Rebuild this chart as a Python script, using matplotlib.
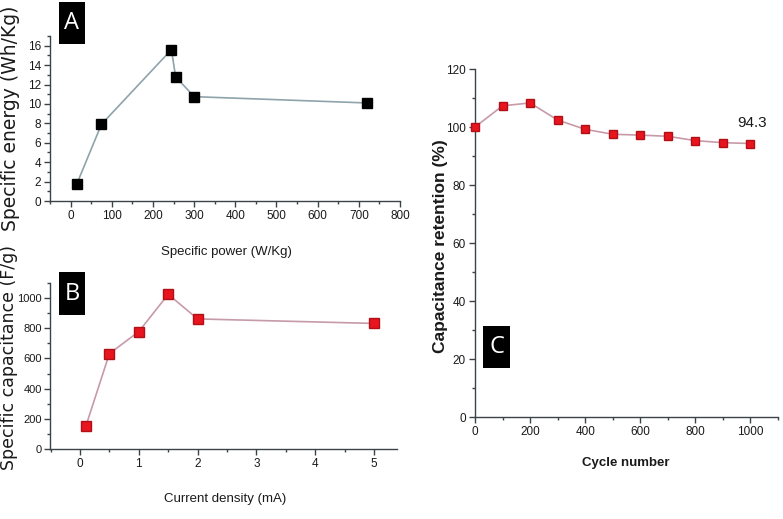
import matplotlib
matplotlib.use("Agg")
import matplotlib.pyplot as plt
from matplotlib.patches import Rectangle
from matplotlib.ticker import MultipleLocator

# Panel A: specific energy vs specific power
power = [15, 75, 245, 255, 300, 720]
energy = [1.75, 7.9, 15.6, 12.8, 10.75, 10.1]

# Panel B: specific capacitance vs current density
current = [0.1, 0.5, 1.0, 1.5, 2.0, 5.0]
capacitance = [152, 632, 778, 1025, 862, 832]

# Panel C: capacitance retention vs cycle number
cycles = [0, 100, 200, 300, 400, 500, 600, 700, 800, 900, 1000]
retention = [100, 107.3, 108.3, 102.4, 99.2, 97.5, 97.2, 96.8, 95.3, 94.6, 94.3]

W, H = 783, 519
narrow = ['Liberation Sans', 'DejaVu Sans']

fig = plt.figure(figsize=(W / 100, H / 100), dpi=100)


def px_axes(left, top, right, bottom):
    # place axes using pixel coords of the reference image
    return fig.add_axes([left / W, 1 - bottom / H, (right - left) / W, (bottom - top) / H])


def style(ax):
    for s in ['top', 'right']:
        ax.spines[s].set_visible(False)
    for s in ['left', 'bottom']:
        ax.spines[s].set_color('#3a4448')
        ax.spines[s].set_linewidth(1.0)
    ax.tick_params(which='major', length=4, width=1, color='#3a4448', labelsize=8.5, pad=2.5)
    ax.tick_params(which='minor', length=2.5, width=1, color='#3a4448')
    for lab in ax.get_xticklabels() + ax.get_yticklabels():
        lab.set_family(narrow)
        lab.set_color('#1a1a1a')


def letter_box(x0, y0, x1, y1, letter):
    fig.patches.append(Rectangle((x0 / W, 1 - y1 / H), (x1 - x0) / W, (y1 - y0) / H,
                                 transform=fig.transFigure, facecolor='black', edgecolor='none'))
    fig.text((x0 + x1) / 2 / W, 1 - (y0 + y1) / 2 / H, letter, color='white', fontsize=17,
             ha='center', va='center', family=['Open Sans', 'DejaVu Sans'])


# ---- Panel A ----
axA = px_axes(50, 36, 400, 201)
axA.plot(power, energy, color='#8fa3ab', lw=1.2, marker='s', ms=6.5,
         mfc='black', mec='black', zorder=3)
axA.set_xlim(-50, 800)
axA.set_ylim(0, 17)
axA.set_xticks(range(0, 801, 100))
axA.set_yticks(range(0, 17, 2))
axA.xaxis.set_minor_locator(MultipleLocator(50))
axA.yaxis.set_minor_locator(MultipleLocator(1))
style(axA)

# ---- Panel B ----
axB = px_axes(50, 283, 397, 449)
axB.plot(current, capacitance, color='#c79aa8', lw=1.2, marker='s', ms=6.5,
         mfc='#e8141e', mec='#b01018', zorder=3)
axB.set_xlim(-0.51, 5.39)
axB.set_ylim(0, 1100)
axB.set_xticks(range(0, 6))
axB.set_yticks(range(0, 1001, 200))
axB.xaxis.set_minor_locator(MultipleLocator(0.5))
axB.yaxis.set_minor_locator(MultipleLocator(100))
style(axB)
axB.tick_params(axis='y', labelsize=8, pad=2)

# ---- Panel C ----
axC = px_axes(475, 69, 778, 417)
axC.plot(cycles, retention, color='#c79aa8', lw=1.2, marker='s', ms=6,
         mfc='#e8141e', mec='#b01018', zorder=3, clip_on=False)
axC.set_xlim(0, 1100)
axC.set_ylim(0, 120)
axC.set_xticks(range(0, 1001, 200))
axC.set_yticks(range(0, 121, 20))
axC.xaxis.set_minor_locator(MultipleLocator(100))
axC.yaxis.set_minor_locator(MultipleLocator(10))
style(axC)
axC.annotate('94.3', xy=(cycles[-1], retention[-1]), xytext=(1006, 101.5),
             ha='center', va='center', fontsize=11, family=narrow, color='#1a1a1a')

# axis titles
fig.text(11 / W, 1 - 118 / H, 'Specific energy (Wh/Kg)', rotation=90, ha='center', va='center',
         fontsize=13.5, color='#1a1a1a')
fig.text(226 / W, 1 - 252 / H, 'Specific power (W/Kg)', ha='center', va='center',
         fontsize=9.5, family=narrow, color='#1a1a1a')
fig.text(9 / W, 1 - 358 / H, 'Specific capacitance (F/g)', rotation=90, ha='center', va='center',
         fontsize=12.5, color='#1a1a1a')
fig.text(225 / W, 1 - 499 / H, 'Current density (mA)', ha='center', va='center',
         fontsize=9.5, family=narrow, color='#1a1a1a')
fig.text(440 / W, 1 - 246 / H, 'Capacitance retention (%)', rotation=90, ha='center', va='center',
         fontsize=12.5, fontweight='bold', family=narrow, color='#1a1a1a')
fig.text(626 / W, 1 - 463 / H, 'Cycle number', ha='center', va='center',
         fontsize=9.5, fontweight='bold', family=narrow, color='#1a1a1a')

# panel letters
letter_box(59, 2, 85, 44, 'A')
letter_box(59, 272, 85, 315, 'B')
letter_box(483, 326, 510, 368, 'C')

fig.savefig('out.png', dpi=100)
